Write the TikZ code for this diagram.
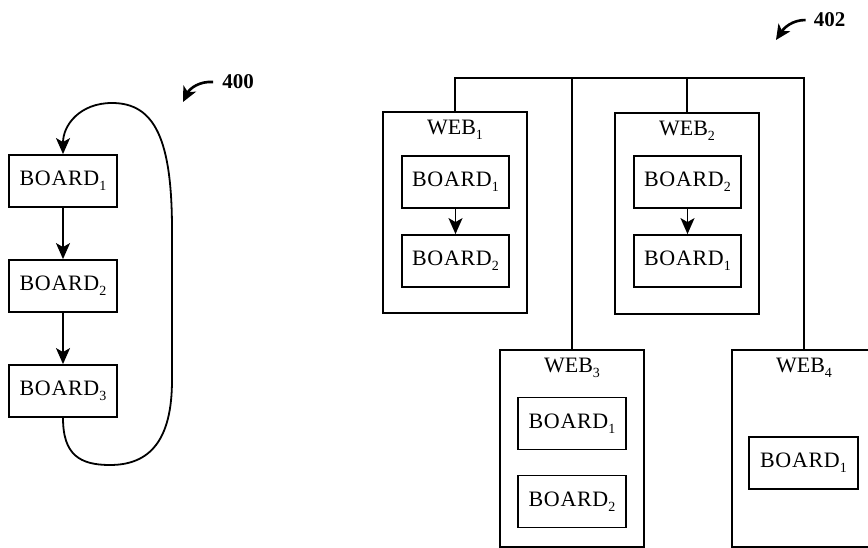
\documentclass[tikz,border=0pt]{standalone}
\usepackage{fontspec}
\setmainfont{Liberation Serif}
\usetikzlibrary{arrows.meta,positioning}

\newcommand{\idx}[1]{\raisebox{-0.5ex}{\fontsize{14}{14}\selectfont #1}}
\def\busy{78}

\tikzset{
  board/.style={draw, line width=1.8pt, minimum width=108pt, minimum height=52pt,
    inner sep=0pt, font=\fontsize{22}{22}\selectfont\addfontfeature{LetterSpace=3}},
  web/.style={draw, line width=1.8pt, minimum width=144pt, minimum height=201pt, inner sep=0pt},
  webname/.style={inner sep=0pt, font=\fontsize{22}{22}\selectfont},
  flow/.style={-{Stealth[length=16pt,width=14pt,inset=4pt]}, line width=1.8pt},
  refno/.style={inner sep=0pt, font=\fontsize{21}{21}\selectfont\bfseries},
  refarrow/.style={-{Stealth[length=15pt,width=14pt,inset=4pt]}, line width=2.6pt},
}

\begin{document}
\begin{tikzpicture}[x=1pt,y=-1pt]
        \useasboundingbox (0,0) rectangle (868,548);
        % chain of boards (400)
        \node[board] (c1) at (63,181) {BOARD\idx{1}};
        \node[board] (c2) at (63,286) {BOARD\idx{2}};
        \node[board] (c3) at (63,391) {BOARD\idx{3}};
        \draw[flow] (c1) -- (c2);
        \draw[flow] (c2) -- (c3);
        % loop from last board back to first
        \draw[flow] (c3.south) .. controls (63,455) and (80,465) .. (110,465)
            .. controls (150,465) and (172,440) .. (172,380) -- (172,230)
            .. controls (172,140) and (155,103) .. (112,103)
            .. controls (80,103) and (63,125) .. (c1.north);
        \node[refno] (n400) at (238,82) {400};
        \coordinate (t400) at (183,102);
        \draw[refarrow] ([xshift=-9pt]n400.west) .. controls (200,81) and (190,88) .. (t400);
        % webs (402)
        \node[web] (w1) at (455,212.5) {};
        \node[web] (w2) at (687,213.5) {};
        \node[web, minimum height=197pt] (w3) at (572,448.5) {};
        \node[web, minimum height=197pt] (w4) at (804,448.5) {};
        \node[webname, below=9pt of w1.north] (w1t) {WEB\idx{1}};
        \node[webname, below=9pt of w2.north] (w2t) {WEB\idx{2}};
        \node[webname, below=9pt of w3.north] (w3t) {WEB\idx{3}};
        \node[webname, below=9pt of w4.north] (w4t) {WEB\idx{4}};
        % boards inside the webs
        \node[board, minimum width=107pt] (w1a) at (455.5,182) {BOARD\idx{1}};
        \node[board, minimum width=107pt] (w1b) at (455.5,261) {BOARD\idx{2}};
        \node[board, minimum width=107pt] (w2a) at (687.5,182) {BOARD\idx{2}};
        \node[board, minimum width=107pt] (w2b) at (687.5,261) {BOARD\idx{1}};
        \node[board] (w3a) at (572,423.5) {BOARD\idx{1}};
        \node[board] (w3b) at (572,501.5) {BOARD\idx{2}};
        \node[board, minimum width=109pt] (w4a) at (803.5,463) {BOARD\idx{1}};
        \draw[flow] (w1a) -- (w1b);
        \draw[flow] (w2a) -- (w2b);
        % bus joining the webs
        \coordinate (top) at (0,\busy);
        \draw[line width=1.8pt] (w1.north) -- (w1.north |- top) -- (w4.north |- top) -- (w4.north);
        \draw[line width=1.8pt] (w2.north) -- (w2.north |- top);
        \draw[line width=1.8pt] (w3.north) -- (w3.north |- top);
        \node[refno] (n402) at (829.5,20) {402};
        \coordinate (t402) at (776,40);
        \draw[refarrow] ([xshift=-8pt]n402.west) .. controls (792,20) and (784,28) .. (t402);
\end{tikzpicture}
\end{document}
